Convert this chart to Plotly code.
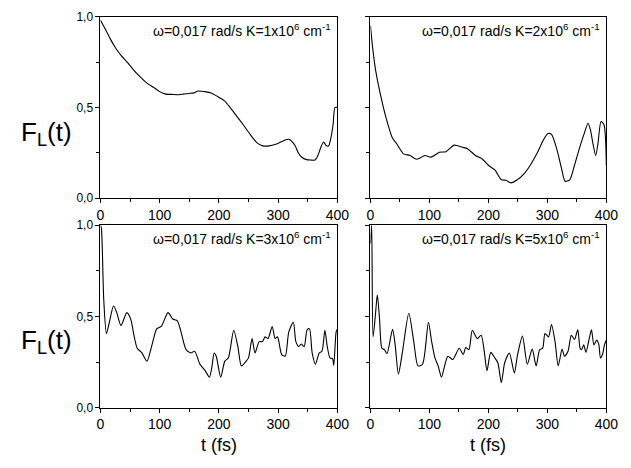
import plotly.graph_objects as go

# ---- data ----
t1 = [0, 5, 10, 17, 25, 35, 45, 55, 65, 78, 90, 100, 110, 120, 132, 140, 149, 158, 165, 176,
      187, 195, 209, 220, 231, 242, 253, 264, 274, 285, 296, 305, 313, 318, 324, 329, 334, 340,
      348, 355, 362, 367, 373, 377, 381, 385, 389, 393, 396, 400]
y1 = [0.98, 0.95, 0.92, 0.875, 0.83, 0.785, 0.75, 0.71, 0.675, 0.635, 0.61, 0.587, 0.573, 0.572,
      0.57, 0.573, 0.577, 0.58, 0.59, 0.587, 0.58, 0.565, 0.537, 0.495, 0.448, 0.4, 0.35, 0.306,
      0.288, 0.288, 0.297, 0.31, 0.322, 0.324, 0.31, 0.287, 0.25, 0.225, 0.212, 0.21, 0.21,
      0.234, 0.287, 0.309, 0.29, 0.287, 0.33, 0.41, 0.5, 0.5]

t2 = [0, 4, 9, 18, 26, 37, 45, 56, 67, 78, 84, 92, 103, 117, 128, 142, 156, 164, 178, 189, 200,
      211, 222, 230, 238, 249, 260, 271, 282, 294, 301, 307, 316, 324, 330, 338, 346, 354, 362,
      369, 373, 377, 382, 386, 391, 396, 400]
y2 = [0.95, 0.82, 0.70, 0.555, 0.448, 0.333, 0.297, 0.244, 0.235, 0.214, 0.221, 0.235, 0.226,
      0.253, 0.256, 0.292, 0.28, 0.274, 0.235, 0.217, 0.181, 0.155, 0.101, 0.098, 0.084, 0.101,
      0.132, 0.181, 0.244, 0.324, 0.356, 0.351, 0.27, 0.164, 0.093, 0.101, 0.181, 0.27, 0.351,
      0.413, 0.377, 0.306, 0.235, 0.306, 0.422, 0.404, 0.181]

t3 = [0, 1.6, 5.5, 10, 15, 22, 27.5, 34.6, 44.5, 51, 56.5, 62, 70, 78.5, 87, 95, 103, 114, 122,
      129.6, 136, 144.5, 152.7, 159, 168, 177, 184, 188, 192, 195.5, 203, 210, 216, 225, 232,
      238, 246, 250, 256, 261, 268, 273.5, 278, 283, 290, 295, 299, 306, 312, 318, 325.7, 330,
      335, 339, 344, 349, 353, 357.5, 363, 369.5, 374, 379, 383, 387.6, 392, 394, 398, 400]
y3 = [1.0, 0.98, 0.592, 0.406, 0.468, 0.557, 0.521, 0.45, 0.521, 0.486, 0.397, 0.326, 0.3, 0.255,
      0.344, 0.432, 0.447, 0.521, 0.486, 0.477, 0.415, 0.318, 0.3, 0.309, 0.238, 0.202, 0.167,
      0.22, 0.3, 0.282, 0.167, 0.255, 0.273, 0.424, 0.335, 0.229, 0.255, 0.273, 0.379, 0.3, 0.362,
      0.362, 0.388, 0.379, 0.445, 0.379, 0.388, 0.291, 0.282, 0.415, 0.468, 0.362, 0.335, 0.349,
      0.335, 0.427, 0.432, 0.3, 0.238, 0.3, 0.309, 0.424, 0.335, 0.273, 0.268, 0.232, 0.415, 0.43]

t4 = [0, 2, 4.4, 8.3, 11.6, 15.4, 19.4, 23.7, 28, 37.5, 41.9, 47.4, 54, 65, 73.4, 80.6, 88.3,
      98.3, 103.8, 109.3, 114.8, 120.4, 125.8, 131.3, 139.6, 150.6, 157.3, 161.7, 167, 172.7,
      181, 187.6, 193, 197.6, 204, 210.8, 216, 222, 227.6, 235.6, 244, 249.5, 257.8, 266, 274.3,
      281, 287, 292, 296, 302, 307, 313, 318.4, 325, 329, 335, 340.6, 346, 351.6, 355.5, 358,
      361.6, 365.4, 371, 374.8, 379, 383.6, 387.4, 390, 393.5, 396.8, 400]
y4 = [0.9, 1.0, 0.388, 0.504, 0.619, 0.486, 0.326, 0.318, 0.296, 0.429, 0.344, 0.184, 0.3, 0.518,
      0.362, 0.229, 0.238, 0.468, 0.362, 0.273, 0.229, 0.167, 0.229, 0.282, 0.264, 0.326, 0.291,
      0.33, 0.318, 0.424, 0.379, 0.397, 0.309, 0.202, 0.303, 0.273, 0.246, 0.137, 0.246, 0.3,
      0.19, 0.291, 0.392, 0.238, 0.321, 0.229, 0.318, 0.326, 0.406, 0.388, 0.456, 0.362, 0.229,
      0.321, 0.282, 0.309, 0.397, 0.374, 0.427, 0.326, 0.318, 0.344, 0.303, 0.379, 0.427, 0.344,
      0.371, 0.344, 0.273, 0.291, 0.344, 0.371]

k_labels = ["1", "2", "3", "5"]
x_ticks = [0, 100, 200, 300, 400]
x_ticktext = ["0", "100", "200", "300", "400"]
y_ticks = [0.0, 0.5, 1.0]
y_ticktext = ["0,0", "0,5", "1,0"]

W, H = 631, 468
FONT = "Liberation Sans"

def px_x(p):
    return p / W

def px_y(p):
    return 1 - p / H

x_dom = [[px_x(99), px_x(342)], [px_x(376), px_x(618)]]
y_dom = [[px_y(197), px_y(10)], [px_y(413), px_y(225)]]

series = [(t1, y1), (t2, y2), (t3, y3), (t4, y4)]

fig = go.Figure()
for i, (tt, yy) in enumerate(series):
    sfx = "" if i == 0 else str(i + 1)
    fig.add_trace(go.Scatter(x=tt, y=yy, mode="lines",
                             line=dict(color="black", width=1.1, shape="spline", smoothing=0.7),
                             xaxis="x" + sfx, yaxis="y" + sfx, showlegend=False,
                             hoverinfo="skip"))

layout = dict(width=W, height=H, margin=dict(l=0, r=0, t=0, b=0),
              paper_bgcolor="white", plot_bgcolor="white", showlegend=False,
              font=dict(family=FONT, color="black", size=12))

annotations = []
for i in range(4):
    row, col = i // 2, i % 2
    sfx = "" if i == 0 else str(i + 1)
    layout["xaxis" + sfx] = dict(
        domain=x_dom[col], anchor="y" + sfx, range=[0, 400],
        tickvals=x_ticks, ticktext=x_ticktext, ticks="outside", ticklen=4,
        tickwidth=1, tickcolor="black",
        minor=dict(tickvals=[50, 150, 250, 350], ticks="outside", ticklen=3, tickcolor="black"),
        showline=True, linecolor="black", linewidth=1, mirror=True,
        showgrid=False, zeroline=False, tickfont=dict(size=14, family=FONT))
    layout["yaxis" + sfx] = dict(
        domain=y_dom[row], anchor="x" + sfx, range=[0, 1],
        tickvals=y_ticks, ticktext=y_ticktext if col == 0 else ["", "", ""],
        ticks="outside", ticklen=4, tickwidth=1, tickcolor="black",
        minor=dict(tickvals=[0.25, 0.75], ticks="outside", ticklen=3, tickcolor="black"),
        showline=True, linecolor="black", linewidth=1, mirror=True,
        showgrid=False, zeroline=False, tickfont=dict(size=12, family=FONT))
    right_px = 338 if col == 0 else 614
    top_px = 10 if row == 0 else 225
    annotations.append(dict(
        xref="paper", yref="paper", x=px_x(right_px), y=px_y(top_px + 2),
        xanchor="right", yanchor="top", showarrow=False,
        text="ω=0,017 rad/s K=" + k_labels[i] + "x10<sup>6</sup> cm<sup>-1</sup>",
        font=dict(size=14, family=FONT, color="black")))

for cy in [130, 345]:
    annotations.append(dict(
        xref="paper", yref="paper", x=px_x(44), y=px_y(cy),
        xanchor="center", yanchor="middle", showarrow=False,
        text="F<sub>L</sub>(t)", font=dict(size=26, family=FONT, color="black")))

for cx in [221, 497]:
    annotations.append(dict(
        xref="paper", yref="paper", x=px_x(cx), y=px_y(451),
        xanchor="center", yanchor="middle", showarrow=False,
        text="t (fs)", font=dict(size=18, family=FONT, color="black")))

layout["annotations"] = annotations
fig.update_layout(**layout)
fig.write_html("out.html", config=dict(displayModeBar=False),
               post_script="document.body.style.margin='0';document.body.style.overflow='hidden';")
